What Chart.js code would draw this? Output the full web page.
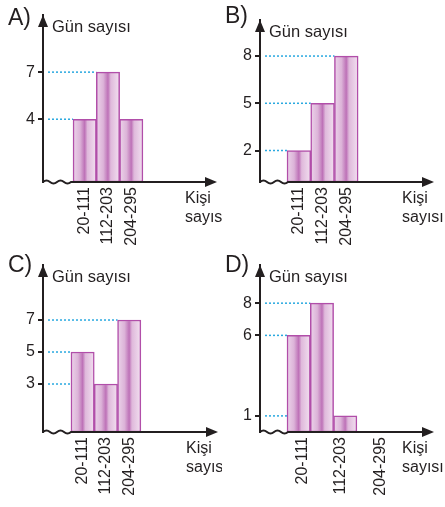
<!DOCTYPE html>
<html lang="tr">
<head>
<meta charset="UTF-8">
<title>Histogramlar</title>
<script src="https://cdn.jsdelivr.net/npm/chart.js"></script>
<style>
  body { margin: 0; background: #fff; }
  .wrap { position: relative; width: 445px; height: 507px; overflow: hidden; }
  canvas { position: absolute; }
</style>
</head>
<body>
<div class="wrap">
  <canvas id="cA" width="222" height="250" style="left:0;top:0"></canvas>
  <canvas id="cB" width="223" height="250" style="left:222px;top:0"></canvas>
  <canvas id="cC" width="222" height="257" style="left:0;top:250px"></canvas>
  <canvas id="cD" width="223" height="257" style="left:222px;top:250px"></canvas>
</div>
<script>
// data
const categories = ['20-111', '112-203', '204-295'];
const valuesA = [4, 7, 4];
const valuesB = [2, 5, 8];
const valuesC = [5, 3, 7];
const valuesD = [6, 8, 1];
const ticksA = [4, 7];
const ticksB = [2, 5, 8];
const ticksC = [3, 5, 7];
const ticksD = [1, 6, 8];

const FONT = '"Liberation Sans", Arial, sans-serif';
const INK = '#231f20';

// layout of each panel (axis position, ranges)
const panels = [
  { id: 'cA', name: 'A)', values: valuesA, ticks: ticksA, axisX: 43, xH: 68, top: 15, right: 5,
    xMin: -1.79, xMax: 5.68, yMax: 10.64, labelAt: [0, 1, 2], nameY: 25 },
  { id: 'cB', name: 'B)', values: valuesB, ticks: ticksB, axisX: 38, xH: 68, top: 20, right: 11,
    xMin: -1.64, xMax: 5.70, yMax: 10.29, labelAt: [0, 1, 2], nameY: 23 },
  { id: 'cC', name: 'C)', values: valuesC, ticks: ticksC, axisX: 43, xH: 75, top: 15, right: 4,
    xMin: -1.70, xMax: 5.81, yMax: 10.44, labelAt: [0, 1, 2], nameY: 22 },
  { id: 'cD', name: 'D)', values: valuesD, ticks: ticksD, axisX: 38, xH: 75, top: 15, right: 11,
    xMin: -1.66, xMax: 5.81, yMax: 10.37, labelAt: [0.15, 1.8, 3.5], nameY: 22 }
];

const decorPlugin = {
  id: 'decor',
  beforeDatasetsDraw(chart, args, opts) {
    // dotted guide lines from y axis to the bars
    const { ctx, chartArea } = chart;
    const meta = chart.getDatasetMeta(0);
    const vals = chart.data.datasets[0].data;
    ctx.save();
    ctx.strokeStyle = '#2aa9e0';
    ctx.lineWidth = 1.5;
    ctx.setLineDash([2, 2]);
    opts.ticks.forEach(t => {
      const i = vals.findIndex(d => d.y === t);
      if (i < 0) return;
      const bar = meta.data[i];
      const y = chart.scales.y.getPixelForValue(t);
      ctx.beginPath();
      ctx.moveTo(chartArea.left + 5, y);
      ctx.lineTo(bar.x - bar.width / 2, y);
      ctx.stroke();
    });
    ctx.restore();
  },
  afterDatasetsDraw(chart, args, opts) {
    const { ctx, chartArea } = chart;
    const l = chartArea.left, b = chartArea.bottom, r = chartArea.right, t = chartArea.top;
    ctx.save();
    ctx.strokeStyle = INK;
    ctx.fillStyle = INK;
    ctx.lineWidth = 2;
    // x axis with wavy break
    ctx.beginPath();
    ctx.moveTo(l, b);
    const seg = 7;
    for (let k = 0; k < 4; k++) {
      const x0 = l + k * seg;
      ctx.quadraticCurveTo(x0 + seg / 2, b + (k % 2 ? 3 : -3), x0 + seg, b);
    }
    ctx.lineTo(r - 8, b);
    ctx.stroke();
    // arrow heads
    ctx.beginPath();
    ctx.moveTo(r, b);
    ctx.lineTo(r - 12, b - 5);
    ctx.lineTo(r - 12, b + 5);
    ctx.closePath();
    ctx.fill();
    ctx.beginPath();
    ctx.moveTo(l, t);
    ctx.lineTo(l - 5, t + 12);
    ctx.lineTo(l + 5, t + 12);
    ctx.closePath();
    ctx.fill();
    // texts
    ctx.textBaseline = 'alphabetic';
    ctx.textAlign = 'left';
    ctx.font = '23px ' + FONT;
    ctx.fillText(opts.name, l - 35, opts.nameY);
    ctx.font = '16.5px ' + FONT;
    ctx.fillText('Gün sayısı', l + 9, t + 17);
    ctx.font = '16px ' + FONT;
    ctx.fillText('Kişi', r - 32, b + 21);
    ctx.fillText('sayısı', r - 32, b + 40);
    ctx.restore();
  }
};

function barFill(c) {
  const chart = c.chart;
  const xs = chart.scales.x;
  const plain = '#e2bfdf';
  if (!xs || !c.parsed) return plain;
  const cx = xs.getPixelForValue(c.parsed.x);
  const half = (xs.getPixelForValue(1) - xs.getPixelForValue(0)) / 2;
  if (!isFinite(cx) || !isFinite(half) || half <= 0) return plain;
  const g = chart.ctx.createLinearGradient(cx - half, 0, cx + half, 0);
  g.addColorStop(0, '#ecd4ea');
  g.addColorStop(0.3, '#dcb3d8');
  g.addColorStop(0.5, '#bd71b7');
  g.addColorStop(0.62, '#dfb9db');
  g.addColorStop(1, '#f2e0f0');
  return g;
}

panels.forEach(p => {
  new Chart(document.getElementById(p.id), {
    type: 'bar',
    data: {
      datasets: [{
        data: p.values.map((v, i) => ({ x: i, y: v })),
        backgroundColor: barFill,
        borderColor: '#b14ea9',
        borderWidth: 1.5,
        borderSkipped: false,
        barPercentage: 1,
        categoryPercentage: 1
      }]
    },
    options: {
      responsive: false,
      animation: false,
      devicePixelRatio: 1,
      layout: { padding: { top: p.top, right: p.right, left: 0, bottom: 0 } },
      plugins: {
        legend: { display: false },
        tooltip: { enabled: false },
        decor: { name: p.name, ticks: p.ticks, nameY: p.nameY }
      },
      scales: {
        x: {
          type: 'linear',
          offset: false,
          min: p.xMin,
          max: p.xMax,
          grid: { display: false, drawTicks: false },
          border: { display: false },
          afterBuildTicks: s => { s.ticks = p.labelAt.map(v => ({ value: v })); },
          afterFit: s => { s.height = p.xH; },
          ticks: {
            autoSkip: false,
            minRotation: 90,
            maxRotation: 90,
            padding: 5,
            color: INK,
            font: { family: FONT, size: 16 },
            callback: (v, i) => categories[i]
          }
        },
        y: {
          min: 0,
          max: p.yMax,
          grid: { display: true, drawOnChartArea: false, drawTicks: true, tickLength: 5, color: INK, lineWidth: 2 },
          border: { display: true, color: INK, width: 2 },
          afterBuildTicks: s => { s.ticks = p.ticks.map(v => ({ value: v })); },
          afterFit: s => { s.width = p.axisX; },
          ticks: {
            padding: 3,
            color: INK,
            font: { family: FONT, size: 16 }
          }
        }
      }
    },
    plugins: [decorPlugin]
  });
});
</script>
</body>
</html>
